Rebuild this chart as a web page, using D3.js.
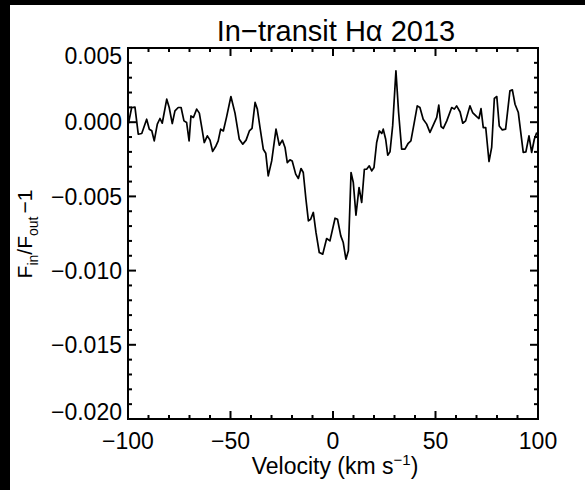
<!DOCTYPE html>
<html>
<head>
<meta charset="utf-8">
<script src="https://cdn.jsdelivr.net/npm/d3@7"></script>
<style>
  body { margin: 0; background: #fff; }
  text { font-family: "Liberation Sans", Arial, sans-serif; fill: #000; }
</style>
</head>
<body>
<div id="container"></div>
<script>
// velocity grid (km/s)
const velocity = [-99.8,-98.2,-96.6,-95.0,-93.3,-90.9,-89.6,-88.4,-87.2,-85.7,-84.4,-83.3,-81.1,-79.9,-78.4,-77.1,-75.5,-74.1,-72.7,-71.4,
  -70.2,-69.3,-68.1,-66.5,-65.2,-64.0,-62.8,-61.3,-60.0,-58.7,-57.1,-56.0,-54.8,-53.5,-51.9,-49.8,-47.8,-45.7,-44.0,-42.4,
  -40.8,-39.5,-38.0,-36.9,-35.6,-34.0,-32.8,-31.6,-29.9,-27.8,-26.2,-24.7,-23.4,-22.3,-21.0,-19.9,-18.2,-16.9,-15.6,-14.5,
  -13.2,-12.0,-10.9,-9.6,-8.3,-6.7,-5.0,-3.1,-1.5,1.0,2.2,3.8,5.0,6.3,7.5,8.8,9.9,11.2,12.7,14.0,
  15.3,16.4,17.7,18.9,20.0,21.3,22.6,23.8,24.5,25.7,26.7,27.8,29.1,30.7,32.0,33.5,35.1,36.7,38.0,39.5,
  41.1,42.4,44.0,45.7,47.3,48.9,50.6,51.6,52.7,53.8,55.5,57.9,59.2,60.3,62.0,63.3,64.7,66.8,68.1,70.1,
  71.2,72.2,73.3,74.5,76.1,77.4,78.7,79.9,81.1,82.6,84.2,86.3,87.5,88.8,90.4,92.8,94.1,95.6,96.9,98.2,99.4];

// F_in/F_out - 1
const ratio = [-0.00010,0.00099,0.00101,-0.00081,-0.00076,0.00020,-0.00047,-0.00058,-0.00126,-0.00013,0.00025,-0.00007,0.00155,0.00099,-0.00009,0.00076,0.00099,0.00099,0.00009,-0.00002,
  -0.00126,0.00042,0.00032,0.00088,0.00061,-0.00036,-0.00137,-0.00092,-0.00121,-0.00197,-0.00160,-0.00126,-0.00047,-0.00059,0.00036,0.00173,0.00061,-0.00115,-0.00148,-0.00121,
  -0.00059,-0.00042,0.00133,0.00088,-0.00036,-0.00182,-0.00209,-0.00362,-0.00261,-0.00047,-0.00155,-0.00121,-0.00170,-0.00272,-0.00254,-0.00261,-0.00350,-0.00379,-0.00312,-0.00339,
  -0.00519,-0.00665,-0.00654,-0.00608,-0.00743,-0.00878,-0.00889,-0.00784,-0.00800,-0.00647,-0.00654,-0.00766,-0.00811,-0.00923,-0.00867,-0.00339,-0.00406,-0.00627,-0.00440,-0.00541,
  -0.00317,-0.00317,-0.00294,-0.00328,-0.00305,-0.00137,-0.00059,-0.00076,-0.00047,-0.00115,-0.00222,-0.00200,-0.00025,0.00346,0.00065,-0.00182,-0.00182,-0.00142,-0.00126,-0.00013,
  0.00110,0.00099,0.00020,-0.00013,-0.00069,-0.00020,0.00032,0.00115,-0.00029,-0.00042,0.00009,0.00099,0.00088,0.00110,0.00069,-0.00007,0.00009,0.00110,0.00065,0.00038,
  0.00025,0.00092,-0.00036,-0.00036,-0.00265,-0.00170,0.00160,0.00173,-0.00025,-0.00052,-0.00047,0.00211,0.00218,0.00121,0.00065,-0.00204,-0.00200,-0.00092,-0.00204,-0.00115,-0.00069];

const xTicks = [-100, -50, 0, 50, 100];
const yTicks = [0.005, 0.000, -0.005, -0.010, -0.015, -0.020];

const width = 585, height = 490;
const plotLeft = 128, plotRight = 538, plotTop = 48, plotBottom = 419;

const svg = d3.select("#container").append("svg")
  .attr("width", width).attr("height", height);

// black strips at the edges of the original screenshot
svg.append("rect").attr("x", 0).attr("y", 0).attr("width", width).attr("height", 5).attr("fill", "#000");
svg.append("rect").attr("x", 0).attr("y", 0).attr("width", 10).attr("height", height).attr("fill", "#000");

const x = d3.scaleLinear().domain([-100, 100]).range([plotLeft, plotRight]);
const y = d3.scaleLinear().domain([-0.020, 0.005]).range([plotBottom, plotTop]);

const points = velocity.map((v, i) => [v, ratio[i]]);

const line = d3.line().x(d => x(d[0])).y(d => y(d[1]));
svg.append("path")
  .datum(points)
  .attr("d", line)
  .attr("fill", "none")
  .attr("stroke", "#000")
  .attr("stroke-width", 1.7)
  .attr("stroke-linejoin", "round");

// ticks on all four sides, pointing inward
const xMinor = d3.range(-100, 101, 10);
const yMinor = d3.range(-20, 6, 1).map(d => d / 1000);
const tickGroup = svg.append("g").attr("stroke", "#000").attr("stroke-width", 2);

xMinor.forEach(v => {
  let len = xTicks.includes(v) ? 8 : 4;
  tickGroup.append("line").attr("x1", x(v)).attr("x2", x(v)).attr("y1", plotBottom).attr("y2", plotBottom - len);
  tickGroup.append("line").attr("x1", x(v)).attr("x2", x(v)).attr("y1", plotTop).attr("y2", plotTop + len);
});
yMinor.forEach(v => {
  let major = yTicks.some(t => Math.abs(t - v) < 1e-9);
  let len = major ? 8 : 4;
  tickGroup.append("line").attr("x1", plotLeft).attr("x2", plotLeft + len).attr("y1", y(v)).attr("y2", y(v));
  tickGroup.append("line").attr("x1", plotRight).attr("x2", plotRight - len).attr("y1", y(v)).attr("y2", y(v));
});

// frame
svg.append("rect")
  .attr("x", plotLeft).attr("y", plotTop)
  .attr("width", plotRight - plotLeft).attr("height", plotBottom - plotTop)
  .attr("fill", "none").attr("stroke", "#000").attr("stroke-width", 2);

// tick labels
svg.selectAll(".xlab")
  .data(xTicks)
  .enter()
  .append("text")
  .attr("x", d => x(d))
  .attr("y", 449)
  .attr("text-anchor", "middle")
  .attr("font-size", 23)
  .text(d => d3.format("d")(d));

svg.selectAll(".ylab")
  .data(yTicks)
  .enter()
  .append("text")
  .attr("x", 122)
  .attr("y", d => {
    let yy = y(d);
    if (yy < plotTop + 8) yy = plotTop + 8;
    if (yy > plotBottom - 7) yy = plotBottom - 7;
    return yy;
  })
  .attr("dy", "0.36em")
  .attr("text-anchor", "end")
  .attr("font-size", 23)
  .text(d => d3.format(".3f")(d));

// title
svg.append("text")
  .attr("x", 336).attr("y", 41)
  .attr("text-anchor", "middle")
  .attr("font-size", 29)
  .text("In\u2212transit H\u03b1 2013");

// x axis title
const xt = svg.append("text")
  .attr("x", 335).attr("y", 474)
  .attr("text-anchor", "middle")
  .attr("font-size", 23);
xt.append("tspan").text("Velocity (km s");
xt.append("tspan").attr("dy", -9).attr("font-size", 15).text("\u22121");
xt.append("tspan").attr("dy", 9).text(")");

// y axis title
const yt = svg.append("text")
  .attr("transform", "translate(32,234) rotate(-90)")
  .attr("text-anchor", "middle")
  .attr("font-size", 21);
yt.append("tspan").text("F");
yt.append("tspan").attr("dy", 6).attr("font-size", 14).text("in");
yt.append("tspan").attr("dy", -6).text("/F");
yt.append("tspan").attr("dy", 6).attr("font-size", 14).text("out");
yt.append("tspan").attr("dy", -6).attr("dx", 3).text("\u22121");
</script>
</body>
</html>
